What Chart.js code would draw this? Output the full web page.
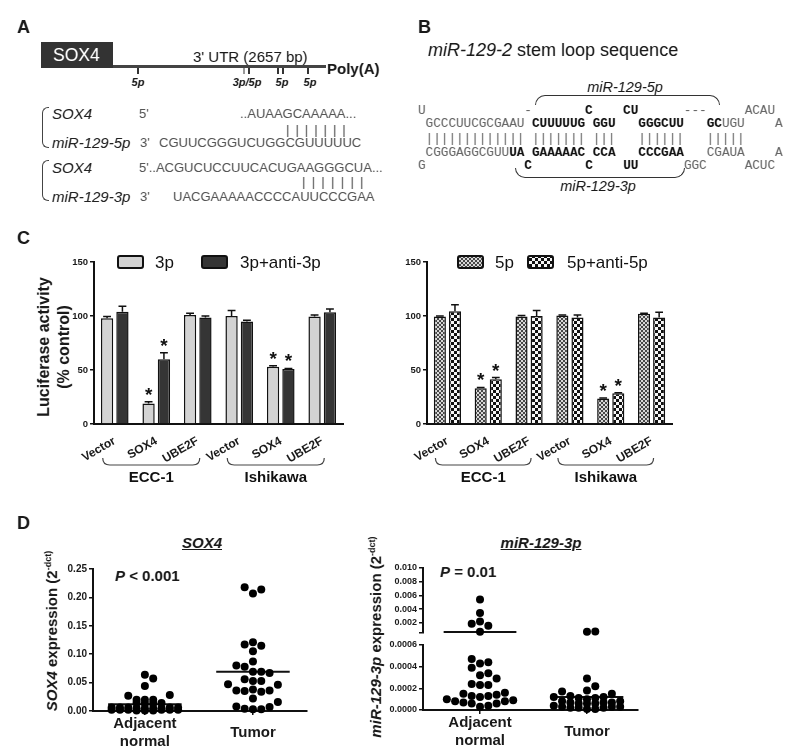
<!DOCTYPE html>
<html>
<head>
<meta charset="utf-8">
<script src="https://cdn.jsdelivr.net/npm/chart.js@4.4.1/dist/chart.umd.min.js"></script>
<style>
  body { margin: 0; background: #fff; }
  #fig { position: relative; width: 800px; height: 753px; overflow: hidden; background: #fff;
         font-family: "Liberation Sans", Arial, sans-serif; color: #1a1a1a; filter: grayscale(1); }
  .t { position: absolute; white-space: pre; line-height: 1; }
  .c { transform: translateX(-50%); }
  .panel { font-weight: bold; font-size: 18px; }
  .seq { font-size: 13px; color: #555; }
  .gene { font-size: 15px; font-style: italic; color: #222; }
  .site { font-size: 11px; font-weight: bold; font-style: italic; }
  .mono { font-family: "Liberation Mono", monospace; font-size: 12.66px; color: #666; }
  .mono b { color: #111; }
  .rot { position: absolute; white-space: nowrap; font-weight: bold; text-align: center;
         transform: translate(-50%, -50%) rotate(-90deg); }
  .box { position: absolute; }
  canvas { position: absolute; }
</style>
</head>
<body>
<div id="fig">
  <!-- A: SOX4 3'UTR -->
  <div class="t panel" style="left:17px;top:18px">A</div>
  <div class="box" style="left:41px;top:42px;width:72px;height:26px;background:#333"></div>
  <div class="t" style="left:53px;top:47px;font-size:17.5px;color:#fff">SOX4</div>
  <div class="box" style="left:113px;top:65px;width:213px;height:3px;background:#444"></div>
  <div class="t" style="left:193px;top:48.5px;font-size:15px">3' UTR (2657 bp)</div>
  <div class="t" style="left:327px;top:60.5px;font-size:15px;font-weight:bold">Poly(A)</div>
  <div class="box" style="left:137px;top:68px;width:1.5px;height:6px;background:#333"></div>
  <div class="box" style="left:243px;top:68px;width:1.5px;height:6px;background:#999"></div>
  <div class="box" style="left:248px;top:68px;width:1.5px;height:6px;background:#333"></div>
  <div class="box" style="left:277px;top:68px;width:1.5px;height:6px;background:#333"></div>
  <div class="box" style="left:282px;top:68px;width:1.5px;height:6px;background:#333"></div>
  <div class="box" style="left:307px;top:68px;width:1.5px;height:6px;background:#333"></div>
  <div class="t c site" style="left:138px;top:76.6px">5p</div>
  <div class="t c site" style="left:247px;top:76.6px">3p/5p</div>
  <div class="t c site" style="left:282px;top:76.6px">5p</div>
  <div class="t c site" style="left:310px;top:76.6px">5p</div>

  <div class="box" style="left:42px;top:107px;width:6px;height:39px;border:1.5px solid #444;border-right:none;border-radius:6px 0 0 6px"></div>
  <div class="t gene" style="left:52px;top:105.6px">SOX4</div>
  <div class="t seq" style="left:139px;top:106.6px">5'</div>
  <div class="t seq" style="left:240px;top:106.6px">..AUAAGCAAAAA...</div>
  <div class="t seq" style="left:286px;top:123.4px;letter-spacing:6px">|||||||</div>
  <div class="t gene" style="left:52px;top:134.6px">miR-129-5p</div>
  <div class="t seq" style="left:140px;top:135.6px">3'</div>
  <div class="t seq" style="left:159px;top:135.6px">CGUUCGGGUCUGGCGUUUUUC</div>

  <div class="box" style="left:42px;top:160px;width:6px;height:39px;border:1.5px solid #444;border-right:none;border-radius:6px 0 0 6px"></div>
  <div class="t gene" style="left:52px;top:159.6px">SOX4</div>
  <div class="t seq" style="left:139px;top:160.6px">5'..ACGUCUCCUUCACUGAAGGGCUA...</div>
  <div class="t seq" style="left:302px;top:175.4px;letter-spacing:6.3px">|||||||</div>
  <div class="t gene" style="left:52px;top:188.6px">miR-129-3p</div>
  <div class="t seq" style="left:140px;top:189.6px">3'</div>
  <div class="t seq" style="left:173px;top:189.6px">UACGAAAAACCCCAUUCCCGAA</div>

  <!-- B: stem loop -->
  <div class="t panel" style="left:418px;top:18px">B</div>
  <div class="t" style="left:428px;top:41.2px;font-size:18px"><i>miR-129-2</i> stem loop sequence</div>
  <div class="t c" style="left:625px;top:79.9px;font-size:14.5px;font-style:italic">miR-129-5p</div>
  <div class="box" style="left:535px;top:95px;width:183px;height:9px;border:1.3px solid #333;border-bottom:none;border-radius:10px 10px 0 0"></div>
  <div class="t mono" style="left:418px;top:104.5px">U             -       <b>C</b>    <b>CU</b>      ---     ACAU</div>
  <div class="t mono" style="left:418px;top:117.5px"> GCCCUUCGCGAAU <b>CUUUUUG</b> <b>GGU</b>   <b>GGGCUU</b>   <b>GC</b>UGU    A</div>
  <div class="t mono" style="left:418px;top:132.5px"> ||||||||||||| ||||||| |||   ||||||   |||||</div>
  <div class="t mono" style="left:418px;top:146.5px"> CGGGAGGCGUU<b>UA</b> <b>GAAAAAC</b> <b>CCA</b>   <b>CCCGAA</b>   CGAUA    A</div>
  <div class="t mono" style="left:418px;top:159.5px">G             <b>C</b>       <b>C</b>    <b>UU</b>      GGC     ACUC</div>
  <div class="box" style="left:515px;top:168px;width:168px;height:9px;border:1.3px solid #333;border-top:none;border-radius:0 0 10px 10px"></div>
  <div class="t c" style="left:598px;top:178.9px;font-size:14.5px;font-style:italic">miR-129-3p</div>

  <!-- C: luciferase -->
  <div class="t panel" style="left:17px;top:229px">C</div>
  <div class="rot" style="left:54px;top:347px;font-size:16px;line-height:20px">Luciferase activity<br>(% control)</div>
  <canvas id="cL" width="312" height="250" style="left:40px;top:246px"></canvas>
  <canvas id="cR" width="308" height="250" style="left:373px;top:246px"></canvas>

  <!-- D: expression -->
  <div class="t panel" style="left:17px;top:514px">D</div>
  <div class="t c" style="left:202px;top:534.6px;font-size:15px;font-weight:bold;font-style:italic;text-decoration:underline">SOX4</div>
  <div class="t c" style="left:541px;top:534.6px;font-size:15px;font-weight:bold;font-style:italic;text-decoration:underline">miR-129-3p</div>
  <div class="t" style="left:115px;top:567.6px;font-size:15px;font-weight:bold"><i>P</i> &lt; 0.001</div>
  <div class="t" style="left:440px;top:563.6px;font-size:15px;font-weight:bold"><i>P</i> = 0.01</div>
  <div class="rot" style="left:51px;top:631px;font-size:15px"><i>SOX4</i> expression  (2<sup style="font-size:9px">-dct)</sup></div>
  <div class="rot" style="left:375px;top:637px;font-size:15px"><i>miR-129-3p</i>  expression  (2<sup style="font-size:9px">-dct)</sup></div>
  <canvas id="dL" width="264" height="197" style="left:53px;top:555px"></canvas>
  <canvas id="dRt" width="270" height="82" style="left:378px;top:558px"></canvas>
  <canvas id="dRb" width="270" height="116" style="left:378px;top:637px"></canvas>
</div>

<script>
// ---- C: luciferase reporter (% control) ----
const groups = ['ECC-1', 'Ishikawa'];
const constructs = ['Vector', 'SOX4', 'UBE2F', 'Vector', 'SOX4', 'UBE2F'];
const mir3p = [98, 19, 101, 100, 53, 99.5];
const mir3pErr = [1.5, 1.5, 1.5, 5, 1, 1.5];
const anti3p = [104, 60, 98.5, 95, 51, 103.5];
const anti3pErr = [5, 6, 1.5, 1, 0.5, 3];
const mir5p = [99.5, 33, 99.5, 100.5, 23.5, 102];
const mir5pErr = [0.5, 0.8, 1, 0.5, 0.5, 0.5];
const anti5p = [104.5, 41.5, 100, 98.5, 28.5, 98.5];
const anti5pErr = [6, 1.5, 5, 2.5, 0.5, 5];
const starred = [1, 4];
const lucTicks = [0, 50, 100, 150];

// ---- D: qPCR expression ----
const tissue = [['Adjacent', 'normal'], 'Tumor'];
const sox4Adjacent = [0.064, 0.057, 0.044, 0.028, 0.027, 0.020, 0.020, 0.020, 0.014, 0.014, 0.013, 0.013,
  0.006, 0.006, 0.006, 0.006, 0.006, 0.005, 0.005, 0.005, 0.005, 0.002, 0.002, 0.002, 0.002, 0.002, 0.002,
  0.001, 0.001, 0.001];
const sox4Tumor = [0.218, 0.214, 0.207, 0.121, 0.117, 0.115, 0.105, 0.087, 0.080, 0.078, 0.069, 0.069,
  0.067, 0.056, 0.053, 0.053, 0.047, 0.046, 0.038, 0.036, 0.036, 0.035, 0.034, 0.022, 0.016, 0.008,
  0.007, 0.004, 0.003, 0.003];
const sox4Median = [0.012, 0.069];
const sox4Ticks = [0, 0.05, 0.10, 0.15, 0.20, 0.25];
const mirAdjacent = [0.0054, 0.00345, 0.0022, 0.0019, 0.0016, 0.00074, 0.00047, 0.00044, 0.00043, 0.00039,
  0.00034, 0.00032, 0.00029, 0.00024, 0.00023, 0.00023, 0.00016, 0.00015, 0.00014, 0.00013, 0.00013,
  0.00012, 0.00010, 0.00009, 0.00008, 0.00008, 0.00007, 0.00006, 0.00006, 0.00004, 0.00003];
const mirTumor = [0.00076, 0.00073, 0.00029, 0.00022, 0.00018, 0.00017, 0.00015, 0.00013, 0.00012, 0.00012,
  0.00011, 0.00011, 0.00010, 0.00008, 0.00008, 0.00007, 0.00007, 0.00007, 0.00006, 0.00006, 0.00006,
  0.00004, 0.00003, 0.00003, 0.00003, 0.00002, 0.00002, 0.00002, 0.00001, 0.00001];
const mirMedian = [0.0007, 0.00012];
const axisBreak = 0.0006;
const mirTicksHigh = [0.0006, 0.002, 0.004, 0.006, 0.008, 0.010];
const mirTicksLow = [0, 0.0002, 0.0004, 0.0006];

Chart.defaults.font.family = '"Liberation Sans", Arial, sans-serif';
const ink = '#111';
const boldFont = size => ({ family: '"Liberation Sans", Arial, sans-serif', size: size, weight: 'bold' });
const fixedWidth = w => s => { s.width = w; };
const fixedHeight = h => s => { s.height = h; };
const setTicks = values => s => { s.ticks = values.map(v => ({ value: v })); };

function checker(cell, light, dark) {
  const p = document.createElement('canvas');
  p.width = p.height = cell * 2;
  const g = p.getContext('2d');
  g.fillStyle = light; g.fillRect(0, 0, cell * 2, cell * 2);
  g.fillStyle = dark; g.fillRect(0, 0, cell, cell); g.fillRect(cell, cell, cell, cell);
  return g.createPattern(p, 'repeat');
}

// error bars, stars, group braces and the legend row
const barExtras = {
  id: 'barExtras',
  afterDatasetsDraw(chart, args, o) {
    const { ctx, chartArea: area, scales: { x, y } } = chart;
    ctx.save();
    ctx.strokeStyle = ink; ctx.fillStyle = ink; ctx.lineWidth = 1.5;
    chart.data.datasets.forEach((ds, i) => {
      chart.getDatasetMeta(i).data.forEach((bar, j) => {
        const base = y.getPixelForValue(ds.data[j]);
        const top = y.getPixelForValue(ds.data[j] + ds.err[j]);
        const cap = bar.width * 0.32;
        ctx.beginPath();
        ctx.moveTo(bar.x, base); ctx.lineTo(bar.x, top);
        ctx.moveTo(bar.x - cap, top); ctx.lineTo(bar.x + cap, top);
        ctx.stroke();
        if (starred.includes(j)) {
          ctx.font = 'bold 19px "Liberation Sans"';
          ctx.textAlign = 'center'; ctx.textBaseline = 'alphabetic';
          ctx.fillText('*', bar.x, top - 1);
        }
      });
    });

    ctx.strokeStyle = '#444'; ctx.lineWidth = 1.2;
    ctx.font = 'bold 15px "Liberation Sans"';
    ctx.textAlign = 'center'; ctx.textBaseline = 'middle';
    groups.forEach((g, k) => {
      const x1 = x.getPixelForValue(k * 3) - 12, x2 = x.getPixelForValue(k * 3 + 2) + 2;
      const y1 = area.bottom + 34, y2 = area.bottom + 41, r = 7;
      ctx.beginPath();
      ctx.moveTo(x1, y1);
      ctx.quadraticCurveTo(x1, y2, x1 + r, y2);
      ctx.lineTo(x2 - r, y2);
      ctx.quadraticCurveTo(x2, y2, x2, y1);
      ctx.stroke();
      ctx.fillText(g, (x1 + x2) / 2, area.bottom + 54);
    });

    ctx.font = '17px "Liberation Sans"';
    ctx.textAlign = 'left';
    chart.data.datasets.forEach((ds, i) => {
      const bx = area.left + o.box[i], by = area.top - 6;
      ctx.fillStyle = ds.backgroundColor;
      ctx.strokeStyle = ink; ctx.lineWidth = 2;
      ctx.beginPath();
      ctx.roundRect(bx, by, 25, 12, 2);
      ctx.fill(); ctx.stroke();
      ctx.fillStyle = ink;
      ctx.fillText(ds.label, area.left + o.text[i], area.top + 1);
    });
    ctx.restore();
  }
};

function barChart(id, sets, legendAt) {
  return new Chart(document.getElementById(id), {
    type: 'bar',
    data: {
      labels: constructs,
      datasets: sets.map(s => ({
        label: s.label, data: s.data, err: s.err,
        backgroundColor: s.fill, borderColor: ink, borderWidth: 1.5,
        categoryPercentage: 0.74, barPercentage: 0.8
      }))
    },
    options: {
      responsive: false, animation: false,
      layout: { padding: { top: 16, right: 9, left: 0, bottom: 0 } },
      plugins: { legend: { display: false }, tooltip: { enabled: false }, barExtras: legendAt },
      scales: {
        x: {
          grid: { display: false },
          border: { color: ink, width: 2 },
          ticks: { minRotation: 30, maxRotation: 30, padding: 2, autoSkip: false, color: '#1a1a1a', font: boldFont(12) },
          afterFit: fixedHeight(72)
        },
        y: {
          min: 0, max: 150,
          afterBuildTicks: setTicks(lucTicks),
          grid: { drawOnChartArea: false, tickLength: 4, color: ink, lineWidth: 1.5 },
          border: { color: ink, width: 2 },
          ticks: { padding: 2, autoSkip: false, color: '#1a1a1a', font: boldFont(9.5) },
          afterFit: fixedWidth(54)
        }
      }
    },
    plugins: [barExtras]
  });
}

barChart('cL', [
  { label: '3p', data: mir3p, err: mir3pErr, fill: '#d3d3d3' },
  { label: '3p+anti-3p', data: anti3p, err: anti3pErr, fill: '#353535' }
], { box: [24, 108], text: [61, 146] });

barChart('cR', [
  { label: '5p', data: mir5p, err: mir5pErr, fill: checker(2, '#d8d8d8', '#474747') },
  { label: '5p+anti-5p', data: anti5p, err: anti5pErr, fill: checker(3, '#f6f6f6', '#111') }
], { box: [31, 101], text: [68, 140] });

// column scatter: each point takes the column nearest the middle that is free at its height
function swarm(values, center, pxPerX, pxPerY) {
  const step = 8.3, cols = [0], placed = [];
  for (let k = 1; k <= 4; k++) cols.push(k, -k);
  const gapAt = (col, v) => placed.filter(p => p.col === col)
    .reduce((g, p) => Math.min(g, Math.abs(p.v - v) * pxPerY), Infinity);
  return [...values].sort((a, b) => a - b).map(v => {
    let col = cols.find(c => gapAt(c, v) >= step);
    if (col === undefined) col = cols.find(c => gapAt(c, v) >= step * 0.4);
    if (col === undefined) col = cols.reduce((b, c) => gapAt(c, v) > gapAt(b, v) ? c : b, 0);
    placed.push({ col: col, v: v });
    return { x: center + col * step / pxPerX, y: v };
  });
}

const dots = pts => ({ data: pts, pointRadius: 4, pointHoverRadius: 4, pointBackgroundColor: '#000', pointBorderWidth: 0, clip: false });
const medianLine = (c, m) => ({
  type: 'line', data: [{ x: c - 0.34, y: m }, { x: c + 0.34, y: m }],
  borderColor: ink, borderWidth: 2, pointRadius: 0, clip: false
});

function dotChart(id, o) {
  return new Chart(document.getElementById(id), {
    type: 'scatter',
    data: { datasets: o.datasets },
    options: {
      responsive: false, animation: false,
      layout: { padding: o.padding },
      plugins: { legend: { display: false }, tooltip: { enabled: false } },
      scales: {
        x: {
          type: 'linear', min: o.xMin, max: o.xMax, display: o.showX,
          afterBuildTicks: setTicks([0, 1]),
          grid: { drawOnChartArea: false, tickLength: 4, color: ink, lineWidth: 1.5 },
          border: { color: ink, width: 2 },
          ticks: { padding: 9, autoSkip: false, maxRotation: 0, crossAlign: 'center', color: '#1a1a1a',
                   font: boldFont(15), callback: v => tissue[v] },
          afterFit: fixedHeight(o.xHeight || 0)
        },
        y: {
          min: o.yMin, max: o.yMax,
          afterBuildTicks: setTicks(o.ticks),
          grid: { drawOnChartArea: false, tickLength: 4, color: ink, lineWidth: 1.5 },
          border: { color: ink, width: 2 },
          ticks: { padding: 2, autoSkip: false, color: '#1a1a1a', font: boldFont(o.tickSize), callback: o.fmt },
          afterFit: fixedWidth(o.yWidth)
        }
      }
    }
  });
}

// SOX4 panel: plot 214 x 142 px
const sPxX = 108, sPxY = 142 / 0.25;
dotChart('dL', {
  datasets: [dots(swarm(sox4Adjacent, 0, sPxX, sPxY)), dots(swarm(sox4Tumor, 1, sPxX, sPxY)),
             medianLine(0, sox4Median[0]), medianLine(1, sox4Median[1])],
  xMin: -0.48, xMax: 1.5, showX: true, xHeight: 41,
  yMin: 0, yMax: 0.25, ticks: sox4Ticks, fmt: v => v.toFixed(2), tickSize: 10, yWidth: 40,
  padding: { top: 14, right: 10, left: 0, bottom: 0 }
});

// miR-129-3p panel, split at the axis break into two stacked plots
const mPxX = 107, hiPxY = 66 / (0.010 - axisBreak), loPxY = 65 / axisBreak;
const hi = v => v > axisBreak, lo = v => v <= axisBreak;
dotChart('dRt', {
  datasets: [dots(swarm(mirAdjacent.filter(hi), 0, mPxX, hiPxY)), dots(swarm(mirTumor.filter(hi), 1, mPxX, hiPxY)),
             ...mirMedian.map((m, i) => hi(m) ? medianLine(i, m) : null).filter(Boolean)],
  xMin: -0.533, xMax: 1.477, showX: false,
  yMin: axisBreak, yMax: 0.010, ticks: mirTicksHigh, fmt: v => v === axisBreak ? '' : v.toFixed(3),
  tickSize: 9, yWidth: 45, padding: { top: 10, right: 10, left: 0, bottom: 6 }
});
dotChart('dRb', {
  datasets: [dots(swarm(mirAdjacent.filter(lo), 0, mPxX, loPxY)), dots(swarm(mirTumor.filter(lo), 1, mPxX, loPxY)),
             ...mirMedian.map((m, i) => lo(m) ? medianLine(i, m) : null).filter(Boolean)],
  xMin: -0.533, xMax: 1.477, showX: true, xHeight: 43,
  yMin: 0, yMax: axisBreak, ticks: mirTicksLow, fmt: v => v.toFixed(4),
  tickSize: 9, yWidth: 45, padding: { top: 8, right: 10, left: 0, bottom: 0 }
});
</script>
</body>
</html>
